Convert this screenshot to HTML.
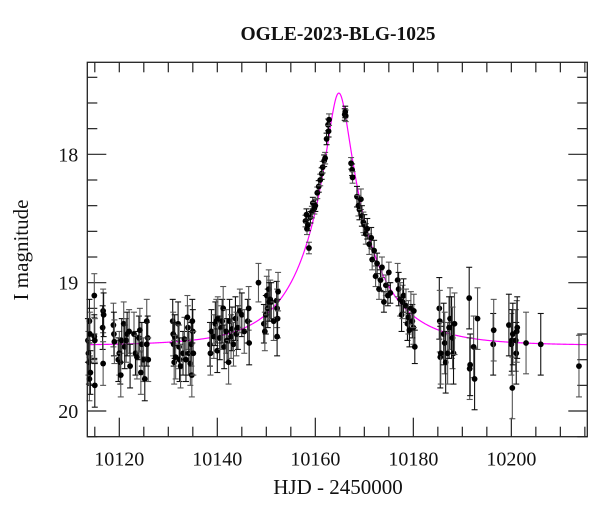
<!DOCTYPE html>
<html><head><meta charset="utf-8"><style>
body{margin:0;background:#fff}
svg text{font-family:"Liberation Serif",serif;fill:#111}
</style></head><body>
<svg width="600" height="512" xmlns="http://www.w3.org/2000/svg" id="chart">
<text x="338" y="40" text-anchor="middle" font-size="19.5" font-weight="bold">OGLE-2023-BLG-1025</text>
<text x="338" y="494" text-anchor="middle" font-size="21">HJD - 2450000</text>
<text transform="translate(28,250) rotate(-90)" text-anchor="middle" font-size="21">I magnitude</text>
<g id="ticks"></g>
<g id="model"></g>
<g id="data"></g>
<rect x="87.3" y="62.3" width="500" height="374.4" fill="none" stroke="#222" stroke-width="1.3"/>
</svg>
<script>
const xTicks=[10120,10140,10160,10180,10200];
const yTicks=[18,19,20];
const modelParams={t0:10164.8,u0:0.165,tE:13,base:19.49};
const obsTimes=[10113.6,10113.7,10113.8,10113.9,10113.9,10114.0,10114.1,10114.9,10114.9,10115.0,10115.0,10116.7,10116.6,10116.7,10116.8,
10118.8,10118.9,10119.0,10119.8,10120.0,10120.2,10120.3,10120.5,10120.9,10121.1,10121.4,10121.6,10122.0,10122.2,10123.0,10123.3,10123.6,10124.0,10124.2,10124.6,10124.9,10125.2,10125.6,10125.8,10125.9,10125.6,10124.4,
10130.9,10131.0,10131.1,10131.2,10131.3,10131.5,10132.0,10132.2,10132.3,10132.5,10133.0,10133.3,10133.6,10134.0,10134.2,10134.5,10134.7,10134.8,10135.0,10135.1,10134.9,10133.9,
10138.5,10138.6,10138.8,10139.3,10139.6,10139.8,10140.0,10140.1,10140.5,10140.8,10141.0,10141.2,10141.4,10141.8,10142.0,10142.3,10142.5,10142.8,10143.0,10143.3,10143.7,10143.9,10144.2,10144.6,10145.0,10145.5,10146.2,10146.4,10146.5,
10148.4,10149.5,10149.7,10149.9,10150.1,10150.3,10150.5,10150.6,10150.8,10151.0,10151.5,10152.1,10152.2,10152.3,10152.4,10152.2,
10158.0,10158.2,10158.3,10158.5,10158.7,10159.0,10159.3,10159.5,10159.8,10160.0,10160.4,10160.7,10161.0,10161.3,10161.5,10161.8,10162.0,10162.3,10162.6,10162.7,10162.8,
10166.0,10166.2,10166.1,
10167.3,10167.5,10167.6,10168.5,10168.8,10169.0,10169.3,10169.5,10169.8,10170.0,10170.3,10170.6,10171.0,10171.4,10171.6,10172.0,10172.3,10172.6,10173.0,10173.3,10173.6,10174.0,10174.4,10174.8,10175.0,10175.3,10176.8,10177.0,10177.3,10177.6,10177.8,10178.0,10178.5,10178.8,10179.0,10179.2,10179.5,10179.8,10180.0,10180.3,10180.1,
10185.3,10185.4,10185.5,10185.6,10186.2,10186.4,10186.6,10187.0,10187.3,10187.5,10187.8,10188.0,10188.2,10188.4,
10191.4,10191.5,10191.6,10192.3,10192.5,10193.1,10196.3,10196.4,
10199.5,10200.0,10200.1,10200.2,10200.3,10200.9,10201.0,10201.1,10201.2,10203.0,10206.0,10213.8];
const obsMags=[19.45,19.55,19.62,19.75,19.3,19.4,19.7,19.1,19.42,19.45,19.8,19.22,19.35,19.63,19.25,
19.33,19.4,19.46,19.6,19.55,19.62,19.72,19.45,19.32,19.5,19.45,19.4,19.38,19.65,19.4,19.55,19.58,19.43,19.37,19.48,19.6,19.75,19.3,19.43,19.6,19.48,19.7,
19.3,19.4,19.48,19.62,19.42,19.58,19.32,19.5,19.6,19.65,19.55,19.44,19.6,19.35,19.55,19.63,19.48,19.72,19.38,19.55,19.3,19.27,
19.48,19.55,19.38,19.42,19.32,19.3,19.53,19.28,19.43,19.35,19.3,19.2,19.5,19.38,19.45,19.62,19.3,19.42,19.36,19.48,19.28,19.4,19.35,19.22,19.25,19.38,19.3,19.2,19.47,
19.0,19.32,19.38,19.25,19.1,19.2,19.05,19.15,19.13,19.15,19.3,19.14,19.2,19.28,19.07,19.42,
18.52,18.47,18.58,18.55,18.73,18.49,18.45,18.38,18.42,18.4,18.3,18.25,18.2,18.15,18.1,18.05,18.03,17.88,17.77,17.82,17.73,
17.69,17.7,17.67,
18.07,18.12,18.18,18.33,18.4,18.43,18.35,18.48,18.53,18.55,18.62,18.58,18.7,18.65,18.82,18.75,18.95,18.85,19.05,18.98,18.88,19.15,19.02,19.1,18.92,19.08,18.98,19.05,19.13,19.25,19.15,19.1,19.18,19.32,19.27,19.37,19.2,19.3,19.35,19.5,19.22,
19.2,19.3,19.58,19.55,19.4,19.47,19.62,19.55,19.35,19.28,19.35,19.43,19.55,19.32,
19.12,19.67,19.64,19.5,19.75,19.28,19.48,19.37,
19.33,19.48,19.45,19.82,19.4,19.45,19.55,19.38,19.35,19.47,19.48,19.65];
const obsErrs=obsTimes.map((t,i)=>{ if(t>10157&&t<10168)return 0.045; if(t>=10168&&t<10176)return 0.08; if(t>=10176&&t<10182)return 0.13; if(t>10182)return 0.24; if(t>10147)return 0.15; return 0.17;});
const X0=87.3,X1=587.3,Y0=62.3,Y1=436.7,TMIN=10113.47,TMAX=10215.5,MMIN=17.283,MMAX=20.2;
const xs=t=>X0+(t-TMIN)/(TMAX-TMIN)*(X1-X0);
const ys=m=>Y0+(m-MMIN)/(MMAX-MMIN)*(Y1-Y0);
const NS="http://www.w3.org/2000/svg";
function mk(tag,at,parent){const e=document.createElementNS(NS,tag);for(const k in at)e.setAttribute(k,at[k]);parent.appendChild(e);return e;}
const tg=document.getElementById('ticks');
for(let t=10115;t<=10215;t+=5){const x=xs(t);const maj=t%20===0;
 const a=mk('line',{x1:x,x2:x,y1:Y1,y2:Y1-(maj?19:10),stroke:'#222','stroke-width':1.2},tg);
 
 const b=mk('line',{x1:x,x2:x,y1:Y0,y2:Y0+10,stroke:'#222','stroke-width':1.2},tg);
 }
for(let i=0;i<15;i++){const m=17.4+i*0.2;const y=ys(m);const maj=Math.abs(m-Math.round(m))<1e-6;
 const a=mk('line',{x1:X0,x2:X0+(maj?19:10),y1:y,y2:y,stroke:'#222','stroke-width':1.2},tg);
 
 const b=mk('line',{x1:X1,x2:X1-(maj?19:10),y1:y,y2:y,stroke:'#222','stroke-width':1.2},tg);
 }
xTicks.forEach(t=>{const e=mk('text',{x:xs(t),y:Y1+29,'text-anchor':'middle','font-size':20},tg);e.textContent=t;
 });
yTicks.forEach(m=>{const e=mk('text',{x:X0-9,y:ys(m)+7,'text-anchor':'end','font-size':20},tg);e.textContent=m;
 });
const mg=document.getElementById('model');let d='';
for(let t=TMIN;t<=TMAX;t+=0.1){const p=modelParams;const tau=(t-p.t0)/p.tE;const u=Math.sqrt(p.u0*p.u0+tau*tau);
 const A=(u*u+2)/(u*Math.sqrt(u*u+4));const m=p.base-2.5*Math.log10(A);d+=(d?'L':'M')+xs(t).toFixed(2)+','+ys(m).toFixed(2);}
const pl=mk('path',{d:d,fill:'none',stroke:'#ff00ff','stroke-width':1.2},mg);

const dg=document.getElementById('data');
obsTimes.forEach((t,i)=>{const x=xs(t),y=ys(obsMags[i]),e=obsErrs[i];const y1=ys(obsMags[i]-e),y2=ys(obsMags[i]+e);
 const g=mk('g',{},dg);
 
 
 const col=i%2?'#555':'#111';
 mk('line',{x1:x,x2:x,y1:y1,y2:y2,stroke:col,'stroke-width':1.1},g);
 mk('line',{x1:x-3,x2:x+3,y1:y1,y2:y1,stroke:col,'stroke-width':1.1},g);
 mk('line',{x1:x-3,x2:x+3,y1:y2,y2:y2,stroke:col,'stroke-width':1.1},g);
 mk('circle',{cx:x,cy:y,r:2.9,fill:'#000'},g);});
</script>
</body></html>
